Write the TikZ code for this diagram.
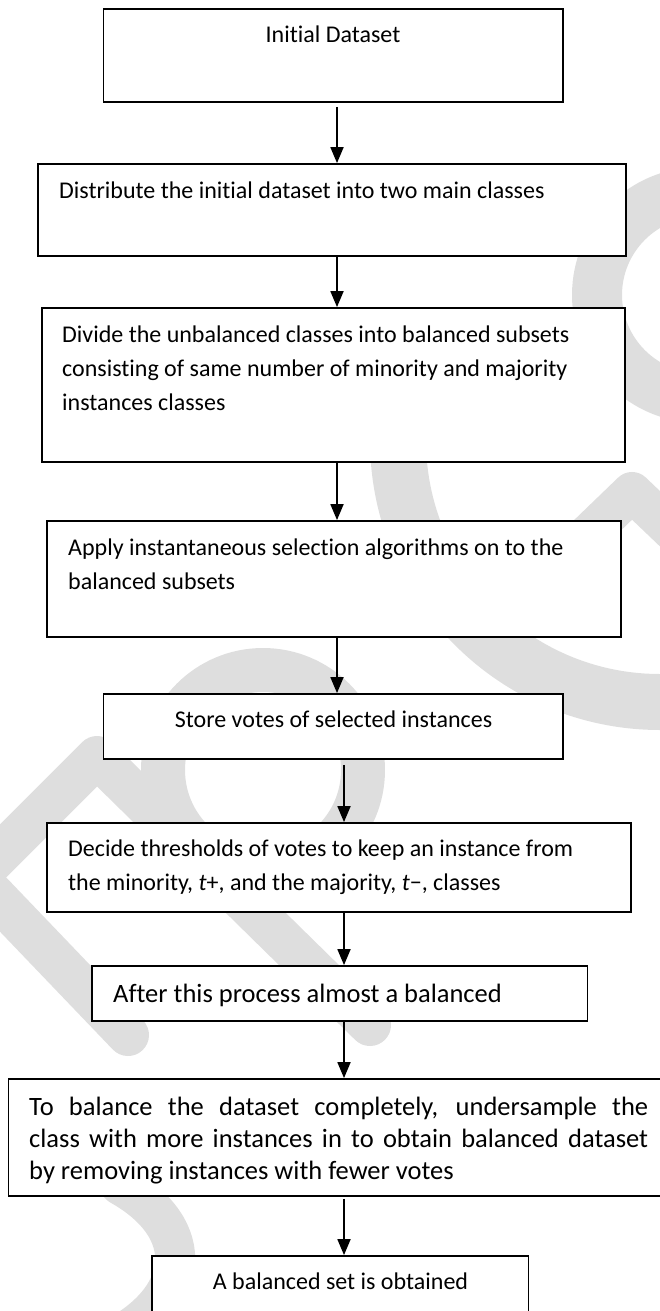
\documentclass[tikz,border=0pt]{standalone}
\usepackage{fontspec}
\setmainfont{Carlito}[Ligatures=NoCommon]
\usetikzlibrary{arrows.meta}
\definecolor{wmgray}{gray}{0.87}
\begin{document}
\begin{tikzpicture}[x=1pt,y=-1pt]
    \tikzstyle{box}=[draw,line width=1.8pt,inner sep=0pt,fill=white]
    \tikzstyle{txt}=[inner sep=0pt,anchor=base west,align=flush left,font=\fontsize{24}{34}\selectfont]
    \tikzstyle{big}=[inner sep=0pt,anchor=base west,font=\fontsize{26.5}{32}\selectfont]
    \tikzstyle{wm}=[draw=wmgray,line cap=round,line join=round]
    \tikzstyle{arr}=[-{Triangle[length=16pt,width=13pt]},line width=1.8pt]
    \useasboundingbox (0,0) rectangle (660,1311);

      \draw[wm,line width=50pt] (700,295) circle[radius=103];
      \draw[wm,line width=56pt] (398,440) arc[start angle=180,end angle=90,radius=262];
      \draw[wm,line width=40pt] (520,600) -- (632,492) -- (745,600);
      \draw[wm,line width=44pt] (263,770) circle[radius=100];
      \draw[wm,line width=42pt] (-40,894) -- (97,757) -- (370,1025);
      \draw[wm,line width=42pt] (-30,870) -- (128,1035);
      \draw[wm,line width=40pt] (120,1185) .. controls (200,1230) and (190,1300) .. (110,1340);

      \node (B1) at (333.25,55.5)  [box,minimum width=459.5pt,minimum height=93pt] {};
      \node (B2) at (332,210)      [box,minimum width=588pt,minimum height=92pt] {};
      \node (B3) at (333.5,385)    [box,minimum width=583pt,minimum height=154pt] {};
      \node (B4) at (334,579)      [box,minimum width=574pt,minimum height=116pt] {};
      \node (B5) at (333.25,726.5) [box,minimum width=459.5pt,minimum height=65pt] {};
      \node (B6) at (339,867.5)    [box,minimum width=584pt,minimum height=89pt] {};
      \node (B7) at (339.75,993.5) [box,minimum width=495.5pt,minimum height=55pt] {};
      \node (B8) at (338.25,1137.5) [box,minimum width=659.5pt,minimum height=117pt] {};
      \node (B9) at (340.25,1293)  [box,minimum width=376.5pt,minimum height=74pt] {};

      \node (T1) at (333,43)   [txt,anchor=base] {Initial Dataset};
      \node (T2) at (59,198)   [txt] {Distribute the initial dataset into two main classes};
      \node (T3) at (62,342)   [txt,text width=560pt] {Divide the unbalanced classes into balanced subsets\\consisting of same number of minority and majority\\instances classes};
      \node (T4) at (68,555)   [txt,text width=540pt] {Apply instantaneous selection algorithms on to the\\balanced subsets};
      \node (T5) at (333.5,727) [txt,anchor=base] {Store votes of selected instances};
      \node (T6) at (68,856)   [txt,text width=555pt] {Decide thresholds of votes to keep an instance from\\the minority, \textit{t}+, and the majority, \textit{t}−, classes};
      \node (T7) at (113,1002) [big] {After this process almost a balanced};
      \node (T8) at (29,1115)  [big,text width=619pt,align=justify] {To balance the dataset completely, undersample the\linebreak class with more instances in to obtain balanced dataset\linebreak by removing instances with fewer votes};
      \node (T9) at (340.5,1289) [txt,anchor=base] {A balanced set is obtained};

      \coordinate (cL) at (337,0);
      \coordinate (cR) at (344,0);
      \draw[arr,shorten <=4pt] (B1.south -| cL) -- (B2.north -| cL);
      \draw[arr] (B2.south -| cL) -- (B3.north -| cL);
      \draw[arr] (B3.south -| cL) -- (B4.north -| cL);
      \draw[arr] (B4.south -| cL) -- (B5.north -| cL);
      \draw[arr,shorten <=5pt] (B5.south -| cR) -- (B6.north -| cR);
      \draw[arr] (B6.south -| cR) -- (B7.north -| cR);
      \draw[arr] (B7.south -| cR) -- (B8.north -| cR);
      \draw[arr,shorten <=2pt] (B8.south -| cR) -- (B9.north -| cR);
  \end{tikzpicture}
\end{document}
